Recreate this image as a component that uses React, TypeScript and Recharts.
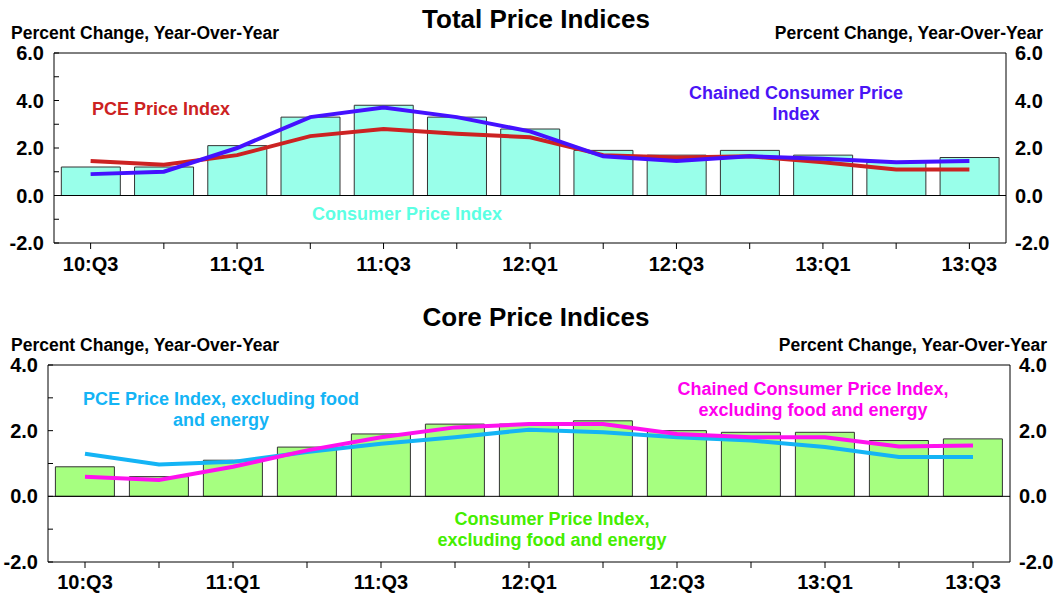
import React from "react";
import {
  ComposedChart,
  Bar,
  Line,
  XAxis,
  YAxis,
  ReferenceLine,
} from "recharts";

const quarters = [
  "10:Q3", "10:Q4", "11:Q1", "11:Q2", "11:Q3", "11:Q4", "12:Q1",
  "12:Q2", "12:Q3", "12:Q4", "13:Q1", "13:Q2", "13:Q3",
];

// Total price indices, percent change year-over-year
const cpiTotal = [1.2, 1.2, 2.1, 3.3, 3.8, 3.3, 2.8, 1.9, 1.7, 1.9, 1.7, 1.4, 1.6];
const pceTotal = [1.45, 1.3, 1.7, 2.5, 2.8, 2.6, 2.45, 1.7, 1.6, 1.65, 1.4, 1.1, 1.1];
const chainedTotal = [0.9, 1.0, 2.0, 3.3, 3.7, 3.3, 2.7, 1.65, 1.45, 1.65, 1.55, 1.4, 1.45];

// Core (ex food and energy)
const cpiCore = [0.9, 0.6, 1.1, 1.5, 1.9, 2.2, 2.2, 2.3, 2.0, 1.95, 1.95, 1.7, 1.75];
const pceCore = [1.3, 0.97, 1.05, 1.35, 1.6, 1.8, 2.03, 1.95, 1.8, 1.7, 1.5, 1.2, 1.2];
const chainedCore = [0.6, 0.5, 0.9, 1.4, 1.8, 2.1, 2.2, 2.2, 1.9, 1.8, 1.8, 1.52, 1.55];

const topTicks = [-2, -1, 0, 1, 2, 3, 4, 5, 6];
const coreTicks = [-2, -1, 0, 1, 2, 3, 4];

const FONT = '"Liberation Sans", Arial, sans-serif';

const totalData = quarters.map((q, i) => ({
  q,
  cpi: cpiTotal[i],
  pce: pceTotal[i],
  chained: chainedTotal[i],
}));

const coreData = quarters.map((q, i) => ({
  q,
  cpi: cpiCore[i],
  pce: pceCore[i],
  chained: chainedCore[i],
}));

function YTick(props: any) {
  const { x, y, payload, side } = props;
  const v = payload.value;
  const major = v % 2 === 0;
  return (
    <g>
      {side === "left" && (
        <line x1={x + 10} x2={x + 15} y1={y} y2={y} stroke="#000" strokeWidth={1} />
      )}
      {major && (
        <text
          x={x}
          y={y}
          dy={7}
          textAnchor={side === "left" ? "end" : "start"}
          fontFamily={FONT}
          fontWeight="bold"
          fontSize={20}
          fill="#000"
        >
          {v.toFixed(1)}
        </text>
      )}
    </g>
  );
}

function XTick(props: any) {
  const { x, y, payload, index, dy } = props;
  return (
    <g>
      <line x1={x} x2={x} y1={y} y2={y + 6} stroke="#000" strokeWidth={1} />
      {index % 2 === 0 && (
        <text
          x={x}
          y={y + dy}
          textAnchor="middle"
          fontFamily={FONT}
          fontWeight="bold"
          fontSize={20}
          fill="#000"
        >
          {payload.value}
        </text>
      )}
    </g>
  );
}

function Note({
  left,
  top,
  color,
  lines,
}: {
  left: number;
  top: number;
  color: string;
  lines: string[];
}) {
  return (
    <div
      style={{
        position: "absolute",
        left,
        top,
        transform: "translateX(-50%)",
        color,
        fontFamily: FONT,
        fontWeight: "bold",
        fontSize: 18,
        lineHeight: "21px",
        textAlign: "center",
        whiteSpace: "nowrap",
      }}
    >
      {lines.map((l) => (
        <div key={l}>{l}</div>
      ))}
    </div>
  );
}

const headStyle: React.CSSProperties = {
  position: "absolute",
  fontFamily: FONT,
  fontWeight: "bold",
  fontSize: 17.5,
  lineHeight: "17.5px",
  whiteSpace: "nowrap",
};

const titleStyle: React.CSSProperties = {
  position: "absolute",
  left: 0,
  width: 1072,
  textAlign: "center",
  fontFamily: FONT,
  fontWeight: "bold",
  fontSize: 26,
  lineHeight: "26px",
};

function Panel({
  data,
  ticks,
  domain,
  barFill,
  pceColor,
  chainedColor,
  height,
  margin,
  leftW,
  rightW,
  xH,
  gap,
  labelDy,
}: any) {
  return (
    <ComposedChart width={1057} height={height} data={data} margin={margin}>
      <XAxis
        dataKey="q"
        interval={0}
        height={xH}
        tickSize={0}
        tickMargin={0}
        tickLine={false}
        axisLine={{ stroke: "#000" }}
        tick={(p: any) => <XTick {...p} dy={labelDy} />}
      />
      <YAxis
        yAxisId="l"
        domain={domain}
        ticks={ticks}
        width={leftW}
        tickSize={0}
        tickMargin={10}
        tickLine={false}
        axisLine={{ stroke: "#000" }}
        allowDataOverflow
        tick={(p: any) => <YTick {...p} side="left" />}
      />
      <YAxis
        yAxisId="r"
        orientation="right"
        domain={domain}
        ticks={ticks}
        width={rightW}
        tickSize={0}
        tickMargin={9}
        tickLine={false}
        axisLine={{ stroke: "#000" }}
        allowDataOverflow
        tick={(p: any) => <YTick {...p} side="right" />}
      />
      <ReferenceLine yAxisId="l" y={domain[1]} stroke="#000" />
      <Bar
        yAxisId="l"
        dataKey="cpi"
        fill={barFill}
        stroke="#333"
        strokeWidth={1}
        barCategoryGap={gap}
        isAnimationActive={false}
      />
      <ReferenceLine yAxisId="l" y={0} stroke="#000" />
      <Line
        yAxisId="l"
        type="linear"
        dataKey="pce"
        stroke={pceColor}
        strokeWidth={4}
        dot={false}
        isAnimationActive={false}
      />
      <Line
        yAxisId="l"
        type="linear"
        dataKey="chained"
        stroke={chainedColor}
        strokeWidth={4}
        dot={false}
        isAnimationActive={false}
      />
    </ComposedChart>
  );
}

export default function App() {
  return (
    <div
      style={{
        position: "absolute",
        left: 0,
        top: 0,
        width: 1057,
        height: 595,
        background: "#fff",
        overflow: "hidden",
      }}
    >
      <div style={{ position: "absolute", left: 0, top: 0 }}>
        <Panel
          data={totalData}
          ticks={topTicks}
          domain={[-2, 6]}
          barFill="#99FFEA"
          pceColor="#CC2222"
          chainedColor="#4411FF"
          height={300}
          margin={{ top: 53, right: 1, bottom: 17, left: 4 }}
          leftW={50}
          rightW={50}
          xH={40}
          gap={6}
          labelDy={28}
        />
      </div>
      <div style={{ position: "absolute", left: 0, top: 300 }}>
        <Panel
          data={coreData}
          ticks={coreTicks}
          domain={[-2, 4]}
          barFill="#A6FF80"
          pceColor="#14B4F5"
          chainedColor="#FF11EE"
          height={295}
          margin={{ top: 65, right: 0, bottom: 3, left: 0 }}
          leftW={48}
          rightW={47}
          xH={30}
          gap={7}
          labelDy={27}
        />
      </div>

      <div style={{ ...titleStyle, top: 6 }}>Total Price Indices</div>
      <div style={{ ...headStyle, left: 11, top: 24.5 }}>Percent Change, Year-Over-Year</div>
      <div style={{ ...headStyle, right: 14, top: 24.5 }}>Percent Change, Year-Over-Year</div>

      <div style={{ ...titleStyle, top: 304 }}>Core Price Indices</div>
      <div style={{ ...headStyle, left: 11, top: 337 }}>Percent Change, Year-Over-Year</div>
      <div style={{ ...headStyle, right: 10, top: 337 }}>Percent Change, Year-Over-Year</div>

      <Note left={161} top={98.5} color="#CC2222" lines={["PCE Price Index"]} />
      <Note
        left={796}
        top={83}
        color="#4A14F5"
        lines={["Chained Consumer Price", "Index"]}
      />
      <Note left={407} top={204} color="#5CFFE3" lines={["Consumer Price Index"]} />

      <Note
        left={221}
        top={389}
        color="#14B4F5"
        lines={["PCE Price Index, excluding food", "and energy"]}
      />
      <Note
        left={813}
        top={379}
        color="#FF00EE"
        lines={["Chained Consumer Price Index,", "excluding food and energy"]}
      />
      <Note
        left={552}
        top={509}
        color="#44EE00"
        lines={["Consumer Price Index,", "excluding food and energy"]}
      />
    </div>
  );
}
